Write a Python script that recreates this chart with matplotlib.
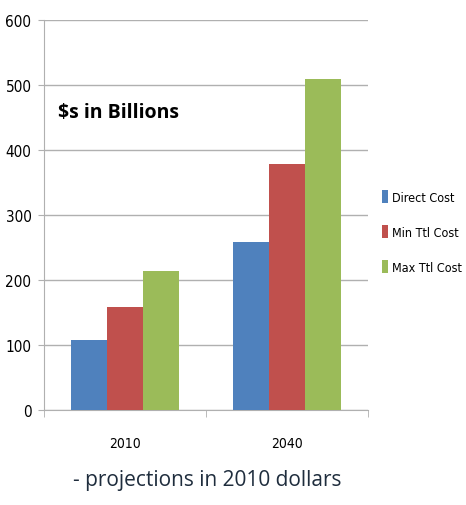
import numpy as np
import matplotlib
matplotlib.use("Agg")
import matplotlib.pyplot as plt
from matplotlib import font_manager as fm

years = ["2010", "2040"]
series = ["Direct Cost", "Min Ttl Cost", "Max Ttl Cost"]
direct_cost = [108, 258]
min_ttl_cost = [158, 379]
max_ttl_cost = [214, 510]
y_ticks = [0, 100, 200, 300, 400, 500, 600]

colors = ["#4F81BD", "#C0504D", "#9BBB59"]
narrow = fm.FontProperties(family="DejaVu Sans", stretch="condensed", size=11)

fig = plt.figure(figsize=(4.66, 5.06), dpi=100)
ax = fig.add_axes([44/466, 1-411/506, 324/466, 390/506])

x = np.arange(len(years))
w = 0.222
for i, (vals, c, lab) in enumerate(zip([direct_cost, min_ttl_cost, max_ttl_cost], colors, series)):
    ax.bar(x + (i-1)*w, vals, w, color=c, label=lab, zorder=3)

ax.set_xlim(-0.5, 1.5)
ax.set_ylim(0, 600)
ax.set_yticks(y_ticks)
ax.set_yticklabels([str(t) for t in y_ticks], fontproperties=narrow)
ax.set_xticks(x)
xfont = narrow.copy()
xfont.set_size(10)
ax.set_xticklabels(years, fontproperties=xfont)
ax.set_xticks([-0.5, 0.5, 1.5], minor=True)
ax.tick_params(axis="x", which="major", length=0, pad=19)
ax.tick_params(axis="x", which="minor", length=5, color="#b0b0b0")
ax.tick_params(axis="y", length=4, color="#b0b0b0", pad=5)
ax.grid(axis="y", color="#b0b0b0", lw=1, zorder=0)
for s in ["top", "right"]:
    ax.spines[s].set_visible(False)
for s in ["left", "bottom"]:
    ax.spines[s].set_color("#b0b0b0")

ax.text(58/466, 1-113/506, "$s in Billions", transform=fig.transFigure,
        fontsize=14, fontweight="bold", family=["Open Sans", "DejaVu Sans"], va="center")

leg_font = narrow.copy()
leg_font.set_size(9)
fig.legend(loc="upper left", bbox_to_anchor=(377/466, 1-186/506), frameon=False,
           prop=leg_font, handlelength=0.45, handleheight=1.25,
           handletextpad=0.35, labelspacing=1.7, borderaxespad=0)

fig.text(207/466, 1-481/506, "- projections in 2010 dollars", ha="center", va="center",
         fontsize=15, color="#1f2d3d", family=["Open Sans", "DejaVu Sans"])

fig.savefig("out.png", dpi=100)
